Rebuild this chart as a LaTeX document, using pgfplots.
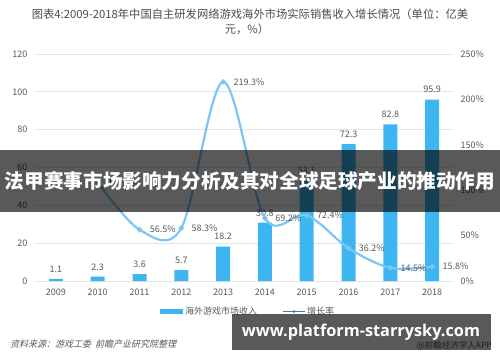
\documentclass[border=0pt]{standalone}
\usepackage{fontspec}
\setmainfont{Noto Sans CJK SC}
\newfontfamily\cjkit{Noto Sans CJK SC}[FakeSlant=0.25]
\newfontfamily\urlfont{Open Sans}
\usepackage{pgfplots}
\pgfplotsset{compat=1.18}
\definecolor{barblue}{HTML}{3DB5F0}
\definecolor{lineblue}{HTML}{7CC6F6}
\definecolor{txt}{HTML}{595959}
\definecolor{gridc}{HTML}{E3E3E3}
\begin{document}
\begin{tikzpicture}[x=1pt,y=1pt]
\useasboundingbox (0,0) rectangle (500,362);
% title
\node[font=\fontsize{11.3}{13}\selectfont, text=txt!85!black] at (250,348) {图表4:2009-2018年中国自主研发网络游戏海外市场实际销售收入增长情况（单位：亿美};
\node[font=\fontsize{11.3}{13}\selectfont, text=txt!85!black] at (247,333) {元，\%）};
\begin{axis}[at={(35pt,81pt)}, anchor=south west, scale only axis,
  width=418pt, height=227pt,
  xmin=-0.5, xmax=9.5, ymin=0, ymax=120,
  ytick={0,20,...,120},
  xtick={0,...,9},
  xticklabels={2009,2010,2011,2012,2013,2014,2015,2016,2017,2018},
  ymajorgrids, grid style={draw=gridc, line width=0.8pt},
  axis line style={draw=none}, major tick length=0pt,
  tick label style={font=\fontsize{9}{10}\selectfont, text=txt},
  yticklabel style={xshift=-4pt},
  xticklabel style={yshift=-4pt},
  /pgf/number format/assume math mode=true,
  clip=false]
\addplot[ybar, bar width=14pt, fill=barblue, draw=none,
  nodes near coords={\pgfmathprintnumber[fixed,fixed zerofill,precision=1]{\pgfplotspointmeta}},
  every node near coord/.append style={font=\fontsize{9}{10}\selectfont, text=txt, yshift=3pt}]
  coordinates {(0,1.1) (1,2.3) (2,3.6) (3,5.7) (4,18.2) (5,30.8) (6,53.1) (7,72.3) (8,82.8) (9,95.9)};
\end{axis}
\begin{axis}[at={(35pt,81pt)}, anchor=south west, scale only axis,
  width=418pt, height=227pt,
  xmin=-0.5, xmax=9.5, ymin=0, ymax=250,
  axis x line=none, axis y line*=right,
  ytick={0,50,...,250},
  yticklabel={\pgfmathprintnumber{\tick}\%},
  axis line style={draw=none}, major tick length=0pt,
  tick label style={font=\fontsize{9}{10}\selectfont, text=txt},
  yticklabel style={xshift=4pt},
  /pgf/number format/assume math mode=true,
  clip=false]
\addplot[lineblue, line width=2.2pt, smooth, tension=0.55, mark=*, mark size=1.4pt,
  nodes near coords={\pgfmathprintnumber[fixed,fixed zerofill,precision=1]{\pgfplotspointmeta}\%},
  every node near coord/.append style={font=\fontsize{9}{10}\selectfont, text=txt, anchor=west, xshift=6pt}]
  coordinates {(1,109.1) (2,56.5) (3,58.3) (4,219.3) (5,69.2) (6,72.4) (7,36.2) (8,14.5) (9,15.8)};
\end{axis}
% legend
\fill[barblue] (160,48) rectangle (183,53);
\node[anchor=west, font=\fontsize{9}{10}\selectfont, text=txt, inner sep=1pt] at (184,50.5) {海外游戏市场收入};
\draw[lineblue!70!blue!80!black, line width=1.6pt] (283,50.5) -- (305,50.5);
\fill[lineblue!70!blue!80!black] (294,50.5) circle (1.5);
\node[anchor=west, font=\fontsize{9}{10}\selectfont, text=txt, inner sep=1pt] at (306,50.5) {增长率};
% source
\node[anchor=west, font=\cjkit\fontsize{9}{10}\selectfont, text=txt, inner sep=0pt] at (10,18) {资料来源：游戏工委\ \ 前瞻产业研究院整理};
\node[anchor=east, font=\fontsize{8.5}{10}\selectfont, text=txt, inner sep=0pt] at (492,16) {@前瞻经济学人APP};
% overlay banners
\fill[black, opacity=0.65] (0,150) rectangle (500,212);
\node[text=white, font=\fontsize{19.6}{22}\selectfont\bfseries, inner sep=0pt] at (250,181) {法甲赛事市场影响力分析及其对全球足球产业的推动作用};
\fill[black, opacity=0.65] (232,12) rectangle (491,48);
\node[text=white, inner sep=0pt] at (361,30) {\resizebox{238pt}{!}{\urlfont\bfseries www.platform-starrysky.com}};
\end{tikzpicture}
\end{document}
